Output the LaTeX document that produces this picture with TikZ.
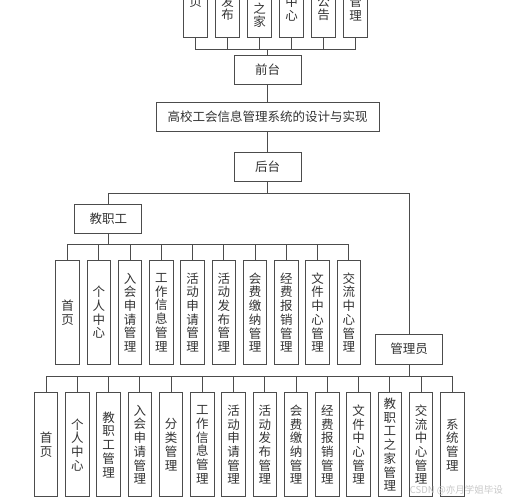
\documentclass[tikz,border=0pt]{standalone}
\usepackage{fontspec}
\setmainfont{Noto Sans CJK SC}
\usetikzlibrary{positioning}

\tikzset{
  hbox/.style={draw=black!70, line width=0.8pt, minimum width=67pt, minimum height=29.5pt, inner sep=0pt},
  vbox/.style={draw=black!70, line width=0.8pt, minimum width=23.6pt, text width=20pt, inner sep=1pt, align=center},
  link/.style={draw=black!70, line width=0.8pt},
}

\begin{document}
\begin{tikzpicture}[x=1pt, y=-1pt, font=\fontsize{12.5}{13.7}\selectfont, text=black!80]
	\useasboundingbox (0,0) rectangle (508,500);
	% main boxes
	\node[hbox] (qt) at (267.5,70) {前台};
	\node[hbox, minimum width=223pt] (sys) at (267.5,117) {高校工会信息管理系统的设计与实现};
	\node[hbox] (ht) at (267.5,167) {后台};
	\node[hbox] (jzg) at (108.3,218.7) {教职工};
	\node[hbox] (gly) at (409,349.2) {管理员};
	\draw[link] (qt) -- (sys);
	\draw[link] (sys) -- (ht);
	\draw[link] (ht.south) -- ++(0,11) -| (jzg.north);
	\draw[link] (ht.south) -- ++(0,11) -| (gly.north);
	% front end
	\foreach \t [count=\i] in {{首\\页},{活\\动\\发\\布},{教\\职\\工\\之\\家},{交\\流\\中\\心},{系\\统\\公\\告},{后\\台\\管\\理}}
	{
		\node[vbox, minimum height=86pt] (f\i) at ({195.5+32*(\i-1)},-5.3) {\t};
		\draw[link] (qt.north) -- ++(0,-5) -| (f\i.south);
	}
	% staff
	\foreach \t [count=\i] in {{首\\页},{个\\人\\中\\心},{入\\会\\申\\请\\管\\理},{工\\作\\信\\息\\管\\理},{活\\动\\申\\请\\管\\理},{活\\动\\发\\布\\管\\理},{会\\费\\缴\\纳\\管\\理},{经\\费\\报\\销\\管\\理},{文\\件\\中\\心\\管\\理},{交\\流\\中\\心\\管\\理}}
	{
		\node[vbox, minimum height=103.6pt] (s\i) at ({67.5+31.25*(\i-1)},312.5) {\t};
		\draw[link] (jzg.south) -- ++(0,11) -| (s\i.north);
	}
	% admin
	\foreach \t [count=\i] in {{首\\页},{个\\人\\中\\心},{教\\职\\工\\管\\理},{入\\会\\申\\请\\管\\理},{分\\类\\管\\理},{工\\作\\信\\息\\管\\理},{活\\动\\申\\请\\管\\理},{活\\动\\发\\布\\管\\理},{会\\费\\缴\\纳\\管\\理},{经\\费\\报\\销\\管\\理},{文\\件\\中\\心\\管\\理},{教\\职\\工\\之\\家\\管\\理},{交\\流\\中\\心\\管\\理},{系\\统\\管\\理}}
	{
		\node[vbox, minimum height=104pt] (a\i) at ({46+31.25*(\i-1)},444.7) {\t};
		\draw[link] (gly.south) -- ++(0,11.7) -| (a\i.north);
	}
	% watermark
	\node[text=black!22, font=\fontsize{9.5}{10}\selectfont, anchor=east, inner sep=0pt] (wm) at (503,490) {CSDN @亦月学姐毕设};
\end{tikzpicture}
\end{document}
